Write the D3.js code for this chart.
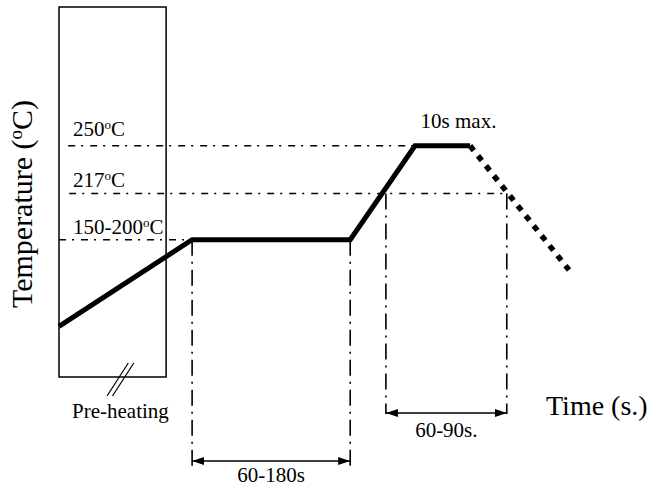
<!DOCTYPE html>
<html>
<head>
<meta charset="utf-8">
<script src="https://cdn.jsdelivr.net/npm/d3@7"></script>
<style>
  html, body { margin: 0; padding: 0; background: #fff; }
  svg { display: block; }
  text { font-family: "Liberation Serif", "Times New Roman", serif; fill: #000; }
</style>
</head>
<body>
<svg id="chart" width="654" height="491"></svg>
<script>
// ---- Data (schematic reflow profile) ----
// Time is in schematic units (0..100), temperature in °C (schematic)
const profileTimes = [0, 26.1, 57.1, 69.8, 80.6];
const profileTemps = [125, 185, 185, 250, 250];
const coolingTimes = [80.6, 100];
const coolingTemps = [250, 164];

const levelValues = [250, 217, 185];
const levelLabels = ["250", "217", "150-200"];
const levelEnds = [69.8, 87.8, 26.1];       // where each reference line stops (time)
const levelStarts = [1.8, 2.0, 0];          // where each reference line starts (time)

const preheatBox = { t0: 0, t1: 21, v0: 90, v1: 346 };

const soakSpan = { t0: 26.1, t1: 57.1, label: "60-180s" };
const liquidusSpan = { t0: 64.1, t1: 87.8, label: "60-90s." };
const peakLabel = "10s max.";
const preheatLabel = "Pre-heating";
const xTitle = "Time (s.)";
const yTitle = ["Temperature (", "o", "C)"];

// ---- Scales ----
const x = d3.scaleLinear().domain([0, 100]).range([59, 569]);
const y = d3.scaleLinear().domain([90, 346]).range([377, 7]);

const svg = d3.select("#chart");
const defs = svg.append("defs");
["start", "end"].forEach(k => {
  defs.append("marker")
    .attr("id", "arrow-" + k)
    .attr("viewBox", "0 0 12 8")
    .attr("refX", k === "end" ? 12 : 0)
    .attr("refY", 4)
    .attr("markerWidth", 12)
    .attr("markerHeight", 8)
    .attr("markerUnits", "userSpaceOnUse")
    .attr("orient", "auto")
    .append("path")
    .attr("d", k === "end" ? "M0,0 L12,4 L0,8 Z" : "M12,0 L0,4 L12,8 Z")
    .attr("fill", "#000");
});

const hDash = "7,6,2,7";
const vDash = "16,6,2,6";

// Pre-heating box
svg.append("rect")
  .attr("x", x(preheatBox.t0))
  .attr("y", y(preheatBox.v1))
  .attr("width", x(preheatBox.t1) - x(preheatBox.t0))
  .attr("height", y(preheatBox.v0) - y(preheatBox.v1))
  .attr("fill", "none")
  .attr("stroke", "#000")
  .attr("stroke-width", 1.5);

// break marks on box bottom
[0, 5.5].forEach(off => {
  svg.append("line")
    .attr("x1", 107 + off).attr("y1", 396)
    .attr("x2", 128.3 + off).attr("y2", 363)
    .attr("stroke", "#000").attr("stroke-width", 1.2);
});

// Horizontal reference lines
levelValues.forEach((v, i) => {
  svg.append("line")
    .attr("x1", x(levelStarts[i])).attr("x2", x(levelEnds[i]))
    .attr("y1", y(v)).attr("y2", y(v))
    .attr("stroke", "#000").attr("stroke-width", 1.6)
    .attr("stroke-dasharray", hDash);
});

// Level labels
const labelBaselineOffset = [10, 6, 6];
levelValues.forEach((v, i) => {
  const t = svg.append("text")
    .attr("x", 73)
    .attr("y", y(v) - labelBaselineOffset[i])
    .attr("font-size", 21);
  t.append("tspan").text(levelLabels[i]);
  t.append("tspan").attr("dy", -7).attr("font-size", 13).text("o");
  t.append("tspan").attr("dy", 7).text("C");
});

// Vertical reference lines
const soakBottom = 467, liqBottom = 414;
[[soakSpan.t0, y(185), soakBottom], [soakSpan.t1, y(185), soakBottom],
 [liquidusSpan.t0, y(217), liqBottom], [liquidusSpan.t1, y(217), liqBottom]].forEach(d => {
  svg.append("line")
    .attr("x1", x(d[0])).attr("x2", x(d[0]))
    .attr("y1", d[1]).attr("y2", d[2])
    .attr("stroke", "#000").attr("stroke-width", 1.6)
    .attr("stroke-dasharray", vDash);
});

// Profile
const line = d3.line().x(d => x(d[0])).y(d => y(d[1]));
svg.append("path")
  .attr("d", line(profileTimes.map((t, i) => [t, profileTemps[i]])))
  .attr("fill", "none").attr("stroke", "#000")
  .attr("stroke-width", 5).attr("stroke-linejoin", "miter");

svg.append("path")
  .attr("d", line(coolingTimes.map((t, i) => [t, coolingTemps[i]])))
  .attr("fill", "none").attr("stroke", "#000")
  .attr("stroke-width", 5.5).attr("stroke-dasharray", "6,6.77");

// Span arrows
function spanArrow(span, yy, labelY) {
  svg.append("line")
    .attr("x1", x(span.t0)).attr("x2", x(span.t1))
    .attr("y1", yy).attr("y2", yy)
    .attr("stroke", "#000").attr("stroke-width", 1.6)
    .attr("marker-start", "url(#arrow-start)")
    .attr("marker-end", "url(#arrow-end)");
  svg.append("text")
    .attr("x", (x(span.t0) + x(span.t1)) / 2)
    .attr("y", labelY)
    .attr("text-anchor", "middle")
    .attr("font-size", 21)
    .text(span.label);
}
spanArrow(soakSpan, 461, 482);
spanArrow(liquidusSpan, 413, 437);

// Peak label
svg.append("text")
  .attr("x", (x(69.8) + x(80.6)) / 2 + 16)
  .attr("y", 128)
  .attr("text-anchor", "middle")
  .attr("font-size", 21)
  .text(peakLabel);

// Pre-heating label
svg.append("text")
  .attr("x", 72).attr("y", 418)
  .attr("font-size", 21)
  .text(preheatLabel);

// Axis titles
svg.append("text")
  .attr("x", 546).attr("y", 415)
  .attr("font-size", 28)
  .text(xTitle);

const yt = svg.append("text")
  .attr("transform", "translate(32,204) rotate(-90)")
  .attr("text-anchor", "middle")
  .attr("font-size", 30);
yt.append("tspan").text(yTitle[0]);
yt.append("tspan").attr("dy", -10).attr("font-size", 19).text(yTitle[1]);
yt.append("tspan").attr("dy", 10).text(yTitle[2]);
</script>
</body>
</html>
